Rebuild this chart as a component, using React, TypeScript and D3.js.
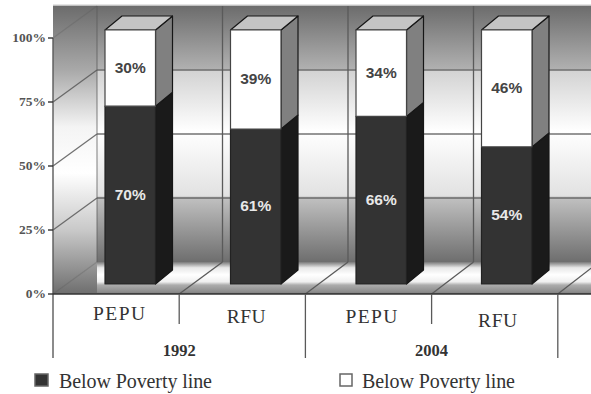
import React from "react";
import * as d3 from "d3";

const groups = ["PEPU", "RFU", "PEPU", "RFU"];
const years = ["1992", "2004"];
const belowLine = [70, 61, 66, 54];
const aboveLine = [30, 39, 34, 46];
const tickValues = [0, 25, 50, 75, 100];
const legendLabels = ["Below Poverty line", "Below Poverty line"];
const groupLabelNudgeX = [0, 1, 0, 0];
const groupLabelBaseline = [320, 323, 323, 327];
const groupLabelWidth = [52, 39, 52, 39];

const W = 591;
const H = 394;
// Oblique projection offset of the back wall
const DX = 44;
const DY = -32;
const BAR_DX = 17;
const BAR_DY = -14;
const AXIS_X = 53;

const yFront = d3.scaleLinear().domain([0, 100]).range([294, 38]);
const yBar = d3.scaleLinear().domain([0, 100]).range([284, 30]);
const slotFront = d3.scaleLinear().domain([0, 1]).range([AXIS_X, AXIS_X + 126.2]);
const slotBack = d3.scaleLinear().domain([0, 1]).range([AXIS_X + DX, AXIS_X + DX + 125.5]);
const pts = (p: number[][]) => p.map((q) => q.join(",")).join(" ");

const wallStops: [number, string][] = [
  [0, "#6c6c6c"], [0.245, "#b0b0b0"], [0.25, "#d2d2d2"], [0.49, "#ffffff"],
  [0.74, "#e2e2e2"], [0.75, "#c0c0c0"], [1, "#6e6e6e"],
];
const floorStops: [number, string][] = [
  [0, "#7a7a7a"], [0.18, "#e8e8e8"], [0.4, "#ffffff"], [0.62, "#efefef"],
  [0.72, "#acacac"], [0.95, "#8a8a8a"], [1, "#555555"],
];

export default function App() {
  const wallTop = yFront(100) + DY;
  const wallBottom = yFront(0) + DY;
  const lineColor = "#5a5a5a";
  return (
    <svg width={W} height={H} style={{ position: "absolute", left: 0, top: 0, background: "#fff" }}>
      <defs>
        <linearGradient id="wall" x1="0" y1={wallTop} x2="0" y2={wallBottom} gradientUnits="userSpaceOnUse">
          {wallStops.map(([o, c]) => <stop key={o} offset={o} stopColor={c} />)}
        </linearGradient>
        <linearGradient id="side" x1="0" y1={wallTop} x2="0" y2={wallBottom + 32} gradientUnits="userSpaceOnUse">
          <stop offset={0} stopColor="#6c6c6c" />
          <stop offset={0.22} stopColor="#a8a8a8" />
          <stop offset={0.42} stopColor="#f4f4f4" />
          <stop offset={0.58} stopColor="#ffffff" />
          <stop offset={0.78} stopColor="#c8c8c8" />
          <stop offset={1} stopColor="#6e6e6e" />
        </linearGradient>
        <linearGradient id="floor" x1="0" y1={wallBottom} x2="0" y2={yFront(0)} gradientUnits="userSpaceOnUse">
          {floorStops.map(([o, c]) => <stop key={o} offset={o} stopColor={c} />)}
        </linearGradient>
      </defs>

      {/* Side wall, back wall and floor */}
      <rect x={AXIS_X} y={wallTop - 1} width={DX} height={yFront(0) - wallTop + 1} fill="url(#side)" />
      <rect x={AXIS_X + DX} y={wallTop - 1} width={W - AXIS_X - DX} height={wallBottom - wallTop + 1} fill="url(#wall)" />
      <rect x={AXIS_X + DX} y={wallBottom} width={W - AXIS_X - DX} height={yFront(0) - wallBottom} fill="url(#floor)" />
      <line x1={AXIS_X} x2={W} y1={wallTop - 1} y2={wallTop - 1} stroke="#dddddd" strokeWidth={1.5} />

      {/* Gridlines on both walls */}
      {tickValues.map((t) => (
        <g key={t} stroke={lineColor} fill="none" strokeWidth={1.3} opacity={t === 100 || t === 0 ? 0.3 : 0.85}>
          <line x1={AXIS_X} y1={yFront(t)} x2={AXIS_X + DX} y2={yFront(t) + DY} />
          {t !== 100 && t !== 0 && <line x1={AXIS_X + DX} y1={yFront(t) + DY} x2={W} y2={yFront(t) + DY} />}
        </g>
      ))}

      {/* Back wall verticals and floor divisions */}
      {d3.range(0, 5).map((i) => (
        <g key={i} stroke={lineColor} strokeWidth={1.3} fill="none">
          {i > 0 && <line x1={slotFront(i)} y1={yFront(0)} x2={slotBack(i)} y2={wallBottom} />}
          {i < 4 && (
            <line x1={slotBack(i)} y1={wallTop} x2={slotBack(i)} y2={wallBottom} opacity={i === 0 ? 0.6 : 1} />
          )}
        </g>
      ))}

      {/* Stacked 3D bars */}
      {groups.map((g, i) => {
        const x0 = slotBack(i) + 8;
        const x1 = x0 + 50.5;
        const yb = yBar(0);
        const ym = yBar(belowLine[i]);
        const yt = yBar(belowLine[i] + aboveLine[i]);
        const off = (x: number, y: number) => [x + BAR_DX, y + BAR_DY];
        return (
          <g key={i} stroke="#161616" strokeWidth={1.2} strokeLinejoin="round">
            <polygon points={pts([[x1, yb], off(x1, yb), off(x1, ym), [x1, ym]])} fill="#1a1a1a" />
            <polygon points={pts([[x1, ym], off(x1, ym), off(x1, yt), [x1, yt]])} fill="#808080" />
            <polygon points={pts([[x0, yt], [x1, yt], off(x1, yt), off(x0, yt)])} fill="#c4c4c4" />
            <rect x={x0} y={ym} width={x1 - x0} height={yb - ym} fill="#333333" stroke="#222" />
            <rect x={x0} y={yt} width={x1 - x0} height={ym - yt} fill="#ffffff" stroke="#444" />
            <text x={(x0 + x1) / 2} y={(yb + ym) / 2 + 4.5} textAnchor="middle" fill="#e8e8e8" stroke="none"
              fontFamily="Liberation Sans" fontWeight={700} fontSize={15.5}>{belowLine[i]}%</text>
            <text x={(x0 + x1) / 2} y={(ym + yt) / 2 + 4.5} textAnchor="middle" fill="#444" stroke="none"
              fontFamily="Liberation Sans" fontWeight={700} fontSize={15.5}>{aboveLine[i]}%</text>
          </g>
        );
      })}

      {/* Value axis */}
      <line x1={AXIS_X} x2={AXIS_X} y1={yFront(100)} y2={358} stroke={lineColor} strokeWidth={1.4} />
      <line x1={AXIS_X} x2={W} y1={yFront(0)} y2={yFront(0)} stroke="#333" strokeWidth={1.6} />
      {tickValues.map((t) => (
        <g key={t}>
          <line x1={AXIS_X - 5} x2={AXIS_X} y1={yFront(t)} y2={yFront(t)} stroke="#333" strokeWidth={1.4} />
          <text x={46} y={yFront(t) + 4} textAnchor="end" fontFamily="Liberation Serif" fontWeight={700}
            fontSize={13.5} fill="#555">{t}%</text>
        </g>
      ))}

      {/* Category axis */}
      {d3.range(1, 5).map((i) => (
        <line key={i} x1={slotFront(i)} x2={slotFront(i)} y1={yFront(0)} y2={i % 2 === 0 ? 358 : 324}
          stroke={lineColor} strokeWidth={1.3} />
      ))}
      {groups.map((g, i) => (
        <text key={i} x={slotFront(i) + 66 + groupLabelNudgeX[i]} y={groupLabelBaseline[i]}
          textAnchor="middle" fontFamily="Liberation Serif" fontSize={19.5} fill="#333"
          textLength={groupLabelWidth[i]}>{g}</text>
      ))}
      {years.map((y, i) => (
        <text key={y} x={slotFront(i * 2 + 1)} y={356} textAnchor="middle" fontFamily="Liberation Serif"
          fontWeight={700} fontSize={16.5} fill="#333">{y}</text>
      ))}

      {/* Legend */}
      <rect x={35} y={374} width={13} height={12} fill="#333" stroke="#666" strokeWidth={1.5} />
      <text x={59} y={388} fontFamily="Liberation Serif" fontSize={20} fill="#333" textLength={153}>{legendLabels[0]}</text>
      <rect x={340} y={374} width={12} height={12} fill="#fff" stroke="#666" strokeWidth={1.5} />
      <text x={362} y={388} fontFamily="Liberation Serif" fontSize={20} fill="#333" textLength={153}>{legendLabels[1]}</text>
    </svg>
  );
}
